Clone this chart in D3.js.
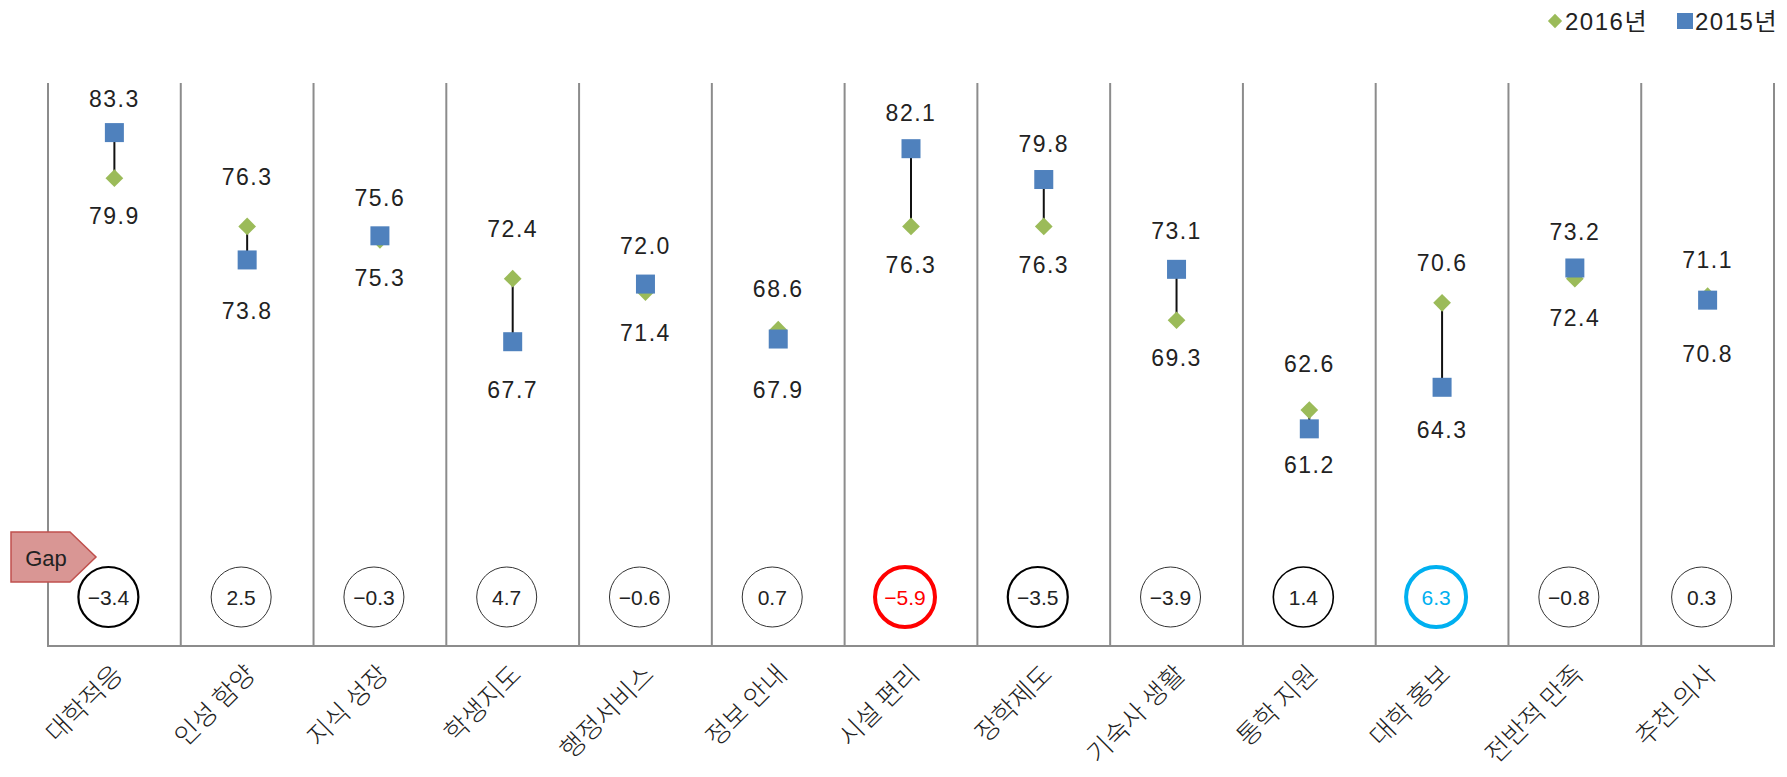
<!DOCTYPE html>
<html>
<head>
<meta charset="utf-8">
<script src="https://cdn.jsdelivr.net/npm/d3@7"></script>
<style>
  body { margin: 0; background: #fff; }
  svg text { font-family: "Liberation Sans", "Noto Sans CJK KR", sans-serif; fill: #222; }
</style>
</head>
<body>
<div id="chart"></div>
<script>
var categories = ['대학적응', '인성 함양', '지식 성장', '학생지도', '행정서비스', '정보 안내', '시설 편리', '장학제도', '기숙사 생활', '통학 지원', '대학 홍보', '전반적 만족', '추천 의사'];
var values2016 = [79.9, 76.3, 75.3, 72.4, 71.4, 68.6, 76.3, 76.3, 69.3, 62.6, 70.6, 72.4, 71.1];
var values2015 = [83.3, 73.8, 75.6, 67.7, 72.0, 67.9, 82.1, 79.8, 73.1, 61.2, 64.3, 73.2, 70.8];
var gapLabels = ['−3.4', '2.5', '−0.3', '4.7', '−0.6', '0.7', '−5.9', '−3.5', '−3.9', '1.4', '6.3', '−0.8', '0.3'];
// circle emphasis: 0 thin, 1 black, 2 red, 3 blue, 4 medium black
var gapStyle = [1, 0, 0, 0, 0, 0, 2, 1, 0, 4, 3, 0, 0];

(function() {
var width = 1787, height = 777;
var plotLeft = 48, plotRight = 1774, plotTop = 83, plotBottom = 646;
// hand placed label nudges (px) above the upper marker / below the lower one
var nudgeUp = [-34, -49, -38, -50, -38, -41, -36, -36, -38, -46, -40, -36, -36];
var nudgeDown = [38, 51, 38, 48, 41, 51, 39, 39, 38, 36, 43, 39, 54];

var svg = d3.select('#chart').append('svg')
    .attr('width', width)
    .attr('height', height);

var xScale = d3.scaleBand()
    .domain(categories)
    .range([plotLeft, plotRight]);

var yScale = d3.scaleLinear()
    .domain([45, 87])
    .range([plotBottom, plotTop]);

var rows = categories.map(function(c, i) {
    return { i: i, cat: c, v16: values2016[i], v15: values2015[i], gap: gapLabels[i], st: gapStyle[i] };
});

// column separators
var edges = categories.map(function(c) { return xScale(c); }).concat([plotRight]);
svg.selectAll('.sep')
    .data(edges)
    .enter()
    .append('line')
    .attr('x1', d => d).attr('x2', d => d)
    .attr('y1', plotTop).attr('y2', plotBottom)
    .attr('stroke', '#8c8c8c')
    .attr('stroke-width', 2);

svg.append('line')
    .attr('x1', plotLeft - 1).attr('x2', plotRight + 1)
    .attr('y1', plotBottom).attr('y2', plotBottom)
    .attr('stroke', '#8c8c8c')
    .attr('stroke-width', 2);

var cx = d => xScale(d.cat) + xScale.bandwidth() / 2;

// connectors
svg.selectAll('.conn')
    .data(rows)
    .enter()
    .append('line')
    .attr('x1', cx).attr('x2', cx)
    .attr('y1', d => yScale(d.v16)).attr('y2', d => yScale(d.v15))
    .attr('stroke', '#111')
    .attr('stroke-width', 2);

// 2016 diamonds
svg.selectAll('.dia')
    .data(rows)
    .enter()
    .append('path')
    .attr('d', d3.symbol().type(d3.symbolDiamond2).size(200))
    .attr('transform', d => `translate(${cx(d)},${yScale(d.v16)})`)
    .attr('fill', '#9bbb59');

// 2015 squares
var sq = 19;
svg.selectAll('.sq')
    .data(rows)
    .enter()
    .append('rect')
    .attr('x', d => cx(d) - sq / 2)
    .attr('y', d => yScale(d.v15) - sq / 2)
    .attr('width', sq).attr('height', sq)
    .attr('fill', '#4f81bd');

// value labels
function addLabels(key, other) {
    svg.selectAll('.lbl' + key)
        .data(rows)
        .enter()
        .append('text')
        .attr('x', cx)
        .attr('y', function(d) {
            var up = d[key] >= d[other];
            return yScale(d[key]) + (up ? nudgeUp[d.i] : nudgeDown[d.i]);
        })
        .attr('text-anchor', 'middle')
        .attr('dominant-baseline', 'central')
        .style('font-size', '23px')
        .style('letter-spacing', '1.5px')
        .text(d => d[key].toFixed(1));
}
addLabels('v16', 'v15');
addLabels('v15', 'v16');

// gap circles
var strokeCol = ['#333', '#000', '#ff0000', '#00b0f0', '#000'];
var strokeW = [1, 2.2, 4, 4, 1.6];
var textCol = ['#222', '#222', '#ff0000', '#00b0f0', '#222'];
var gy = 597;
svg.selectAll('.gc')
    .data(rows)
    .enter()
    .append('circle')
    .attr('cx', d => cx(d) - 6)
    .attr('cy', gy)
    .attr('r', 30)
    .attr('fill', '#fff')
    .attr('stroke', d => strokeCol[d.st])
    .attr('stroke-width', d => strokeW[d.st]);

svg.selectAll('.gt')
    .data(rows)
    .enter()
    .append('text')
    .attr('x', d => cx(d) - 6)
    .attr('y', gy)
    .attr('text-anchor', 'middle')
    .attr('dominant-baseline', 'central')
    .style('font-size', '21px')
    .style('fill', d => textCol[d.st])
    .text(d => d.gap);

// Gap tag
svg.append('polygon')
    .attr('points', '11,532 70,532 96,557 70,582 11,582')
    .attr('fill', '#d99694')
    .attr('stroke', '#c0504d')
    .attr('stroke-width', 1.5);
svg.append('text')
    .attr('x', 46).attr('y', 558)
    .attr('text-anchor', 'middle')
    .attr('dominant-baseline', 'central')
    .style('font-size', '22px')
    .text('Gap');

// category labels
svg.selectAll('.cat')
    .data(rows)
    .enter()
    .append('text')
    .attr('transform', d => `translate(${cx(d) + 2},${668}) rotate(-45)`)
    .attr('text-anchor', 'end')
    .attr('dominant-baseline', 'central')
    .style('font-size', '26px')
    .style('font-family', '"Noto Sans CJK KR", sans-serif')
    .style('font-weight', 300)
    .text(d => d.cat);

// legend
var legend = svg.append('g');
legend.append('path')
    .attr('d', d3.symbol().type(d3.symbolDiamond2).size(130))
    .attr('transform', 'translate(1555,21)')
    .attr('fill', '#9bbb59');
legend.append('text')
    .attr('x', 1565).attr('y', 21)
    .attr('dominant-baseline', 'central')
    .style('font-size', '24px')
    .style('letter-spacing', '1.5px')
    .text('2016년');
legend.append('rect')
    .attr('x', 1677).attr('y', 13)
    .attr('width', 16).attr('height', 16)
    .attr('fill', '#4f81bd');
legend.append('text')
    .attr('x', 1695).attr('y', 21)
    .attr('dominant-baseline', 'central')
    .style('font-size', '24px')
    .style('letter-spacing', '1.5px')
    .text('2015년');
})();
</script>
</body>
</html>
